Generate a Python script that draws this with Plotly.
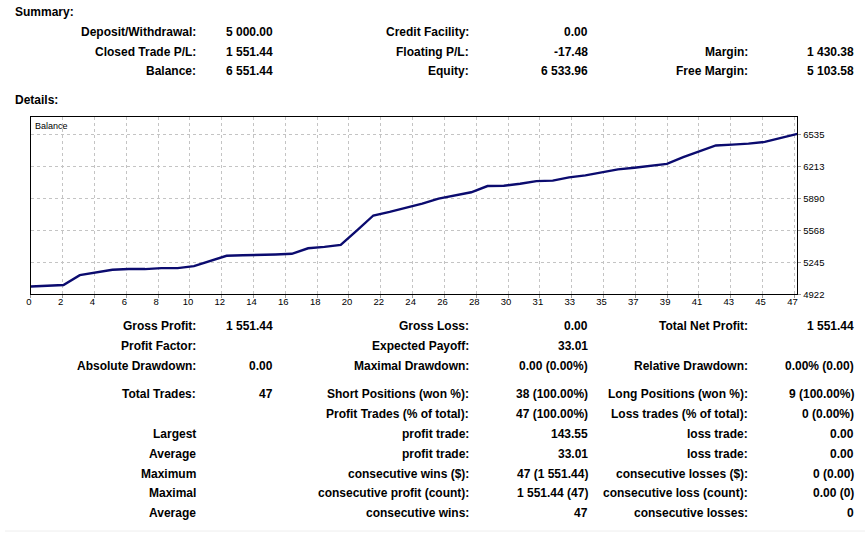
import plotly.graph_objects as go

# ---------------- data ----------------
trades = list(range(48))
balance = [5000, 5008, 5015, 5115, 5145, 5169, 5176, 5176, 5186, 5186,
           5206, 5260, 5310, 5316, 5317, 5323, 5330, 5386, 5400, 5420,
           5566, 5717, 5754, 5794, 5837, 5887, 5917, 5951, 6014, 6017,
           6037, 6064, 6069, 6102, 6122, 6152, 6182, 6199, 6220, 6238,
           6305, 6367, 6424, 6432, 6442, 6460, 6500, 6540]

x_tick_labels = ["0", "2", "4", "6", "8", "10", "12", "14", "16", "18", "20", "22",
                 "24", "26", "28", "30", "31", "33", "35", "37", "39", "41", "43",
                 "45", "47"]
y_tick_labels = [4922, 5245, 5568, 5890, 6213, 6535]

summary_rows = [
    [("Deposit/Withdrawal:", "5 000.00"), ("Credit Facility:", "0.00"), ("", "")],
    [("Closed Trade P/L:", "1 551.44"), ("Floating P/L:", "-17.48"), ("Margin:", "1 430.38")],
    [("Balance:", "6 551.44"), ("Equity:", "6 533.96"), ("Free Margin:", "5 103.58")],
]

details_rows = [
    [("Gross Profit:", "1 551.44"), ("Gross Loss:", "0.00"), ("Total Net Profit:", "1 551.44")],
    [("Profit Factor:", ""), ("Expected Payoff:", "33.01"), ("", "")],
    [("Absolute Drawdown:", "0.00"), ("Maximal Drawdown:", "0.00 (0.00%)"), ("Relative Drawdown:", "0.00% (0.00)")],
    [("Total Trades:", "47"), ("Short Positions (won %):", "38 (100.00%)"), ("Long Positions (won %):", "9 (100.00%)")],
    [("", ""), ("Profit Trades (% of total):", "47 (100.00%)"), ("Loss trades (% of total):", "0 (0.00%)")],
    [("Largest", ""), ("profit trade:", "143.55"), ("loss trade:", "0.00")],
    [("Average", ""), ("profit trade:", "33.01"), ("loss trade:", "0.00")],
    [("Maximum", ""), ("consecutive wins ($):", "47 (1 551.44)"), ("consecutive losses ($):", "0 (0.00)")],
    [("Maximal", ""), ("consecutive profit (count):", "1 551.44 (47)"), ("consecutive loss (count):", "0.00 (0)")],
    [("Average", ""), ("consecutive wins:", "47"), ("consecutive losses:", "0")],
]

# ---------------- layout geometry (pixels) ----------------
W, H = 865, 538
PL, PR, PT, PB = 26, 797, 118, 297
X_MAX = 47
Y_MIN, Y_MAX = 4922, 6712
GRID_PX = 32.0

label_right = [193, 468, 748]
value_right = [271, 587, 855]
summary_y = [32, 52, 72]
details_y = [329, 349, 369, 398, 418, 438, 458, 478, 498, 518]

FONT = "Liberation Sans"
TXT = "#000000"


def px(x):
    return x / W


def py(y):
    return 1 - y / H


fig = go.Figure()
fig.add_trace(go.Scatter(x=trades, y=balance, mode="lines",
                         line=dict(color="#0b0b6f", width=2.4),
                         hoverinfo="skip", showlegend=False))

step = GRID_PX * X_MAX / (PR - PL)
x_tickvals = [i * step for i in range(len(x_tick_labels))]

annotations = []


def text(x, y, s, anchor, bold=True, size=12):
    annotations.append(dict(
        xref="paper", yref="paper", x=px(x), y=py(y), text=s,
        showarrow=False, xanchor=anchor, yanchor="middle", borderpad=0,
        font=dict(family=FONT, size=size, color=TXT, weight="bold" if bold else "normal"),
    ))


text(9, 12, "Summary:", "left")
text(9, 101, "Details:", "left")
for yy, row in zip(summary_y, summary_rows):
    for c, (lab, val) in enumerate(row):
        if lab:
            text(label_right[c], yy, lab, "right")
        if val:
            text(value_right[c], yy, val, "right")
for yy, row in zip(details_y, details_rows):
    for c, (lab, val) in enumerate(row):
        if lab:
            text(label_right[c], yy, lab, "right")
        if val:
            text(value_right[c], yy, val, "right")

text(PL + 3, 127, "Balance", "left", bold=False, size=9)

fig.update_layout(
    width=W, height=H, autosize=False,
    margin=dict(l=0, r=0, t=0, b=0),
    paper_bgcolor="white", plot_bgcolor="white",
    annotations=annotations,
    xaxis=dict(
        domain=[px(PL), px(PR)], range=[0, X_MAX],
        tickmode="array", tickvals=x_tickvals, ticktext=x_tick_labels,
        showgrid=True, gridcolor="#c4c4c4", griddash="3px,3px", gridwidth=1,
        showline=True, mirror=True, linecolor="#000000", linewidth=1,
        ticks="outside", ticklen=3, tickcolor="#999999",
        tickfont=dict(family=FONT, size=9.5, color=TXT),
        zeroline=False, fixedrange=True, ticklabelshift=-2, ticklabelstandoff=-5,
    ),
    yaxis=dict(
        domain=[py(PB), py(PT)], range=[Y_MIN, Y_MAX], side="right",
        tickmode="array", tickvals=y_tick_labels, ticktext=[str(v) for v in y_tick_labels],
        showgrid=True, gridcolor="#c4c4c4", griddash="3px,3px", gridwidth=1,
        showline=True, mirror=True, linecolor="#000000", linewidth=1,
        ticks="outside", ticklen=3, tickcolor="#999999",
        tickfont=dict(family=FONT, size=9.5, color=TXT),
        zeroline=False, fixedrange=True,
    ),
    shapes=[dict(type="line", xref="paper", yref="paper", x0=0, x1=1,
                 y0=py(536), y1=py(536), line=dict(color="#eeeeee", width=1))],
)

css = "margin:0;padding:0;overflow:hidden;"
post = (
    "document.documentElement.style.cssText='" + css + "';"
    "document.body.style.cssText='" + css + "';"
)

fig.write_html(
    "out.html",
    config={"displayModeBar": False, "staticPlot": True},
    post_script=post,
)
